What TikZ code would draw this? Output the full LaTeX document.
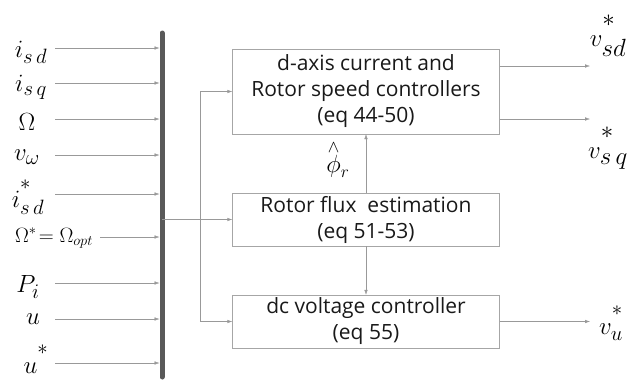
\documentclass[tikz,border=0pt]{standalone}
\usepackage{fontspec}
\newfontfamily\boxfont{Open Sans}
\usetikzlibrary{arrows.meta, positioning, calc}
\newcommand{\hstar}{\raisebox{0.3em}{$\scriptstyle *$}}

\begin{document}
\begin{tikzpicture}[
  x=1pt, y=-1pt,
  block/.style={draw=gray!70, thin, minimum width=267pt, align=center, inner sep=0pt,
    font=\boxfont\fontsize{21}{26}\selectfont, text=black!90},
  sig/.style={font=\fontsize{32}{32}\selectfont, inner sep=0pt},
  arr/.style={draw=gray!80, -{Latex[length=5pt,width=3.5pt]}},
  wire/.style={draw=gray!80},
  bus/.style={draw=black!65, line width=5pt, line cap=round}
]
\useasboundingbox (0,0) rectangle (634,381);

% controller blocks
\node[block, minimum height=85pt] (ctrl) at (366,91.5) {d-axis current and\\Rotor speed controllers\\(eq 44-50)};
\node[block, minimum height=53pt] (flux) at (366,219.5) {Rotor flux\ \ estimation\\(eq 51-53)};
\node[block, minimum height=53pt] (dcv) at (366,321.5) {dc voltage controller\\(eq 55)};

% measured and reference signals
\coordinate (bustop) at (162,33);
\coordinate (busbot) at (162,377);
\foreach \nm/\y/\sx/\lx/\ly/\lab in {
  isd/48/55/31/52/{$i_{s\,d}$},
  isq/83/55/31/87/{$i_{s\,q}$},
  om/119/55/27/122/{\fontsize{27}{27}\selectfont$\Omega$},
  vw/155/55/27/157/{$v_{\omega}$},
  isdr/194/55/28/197/{$i^{\hstar}_{s\,d}$},
  omr/237/100/54/238/{\fontsize{22}{22}\selectfont$\Omega^{*}\!=\Omega_{opt}$},
  pi/283/55/28/287/{$P_{i}$},
  u/319/55/33/319/{$u$},
  ur/363/55/36/359/{$u^{\hstar}$}} {
  \node[sig] (\nm) at (\lx,\ly) {\lab};
  \coordinate (\nm-s) at (\sx,\y);
  \draw[arr, shorten >=2.5pt] (\nm-s) -- (\nm-s -| bustop);
}
\draw[bus] (bustop) -- (busbot);

% distribution to the blocks
\coordinate (tap) at (162,219.5);
\coordinate (split) at (200,219.5);
\draw[arr] (tap) -- (flux.west);
\draw[wire] (split |- ctrl.west) -- (split |- dcv.west);
\draw[arr] (split |- ctrl.west) -- (ctrl.west);
\draw[arr] (split |- dcv.west) -- (dcv.west);

% between blocks
\draw[arr] (flux.north) -- (ctrl.south);
\draw[arr] (flux.south) -- (dcv.north);
\node[sig, font=\fontsize{24}{24}\selectfont] (phir) at (338,160) {$\stackrel{\wedge}{\phi}_{r}$};

% outputs
\coordinate (outx) at (590,0);
\coordinate (vsd-s) at ($(ctrl.east)+(0,-25.5)$);
\coordinate (vsq-s) at ($(ctrl.east)+(0,27.5)$);
\node[sig, font=\fontsize{36}{36}\selectfont] (vsd) at (608,36) {$v^{\hstar}_{sd}$};
\node[sig, font=\fontsize{36}{36}\selectfont] (vsq) at (608,148) {$v^{\hstar}_{s\,q}$};
\node[sig, font=\fontsize{32}{32}\selectfont] (vu) at (611,323) {$v^{\hstar}_{u}$};
\draw[arr] (vsd-s) -- (vsd-s -| outx);
\draw[arr] (vsq-s) -- (vsq-s -| outx);
\draw[arr] (dcv.east) -- (dcv.east -| outx);
\end{tikzpicture}
\end{document}
